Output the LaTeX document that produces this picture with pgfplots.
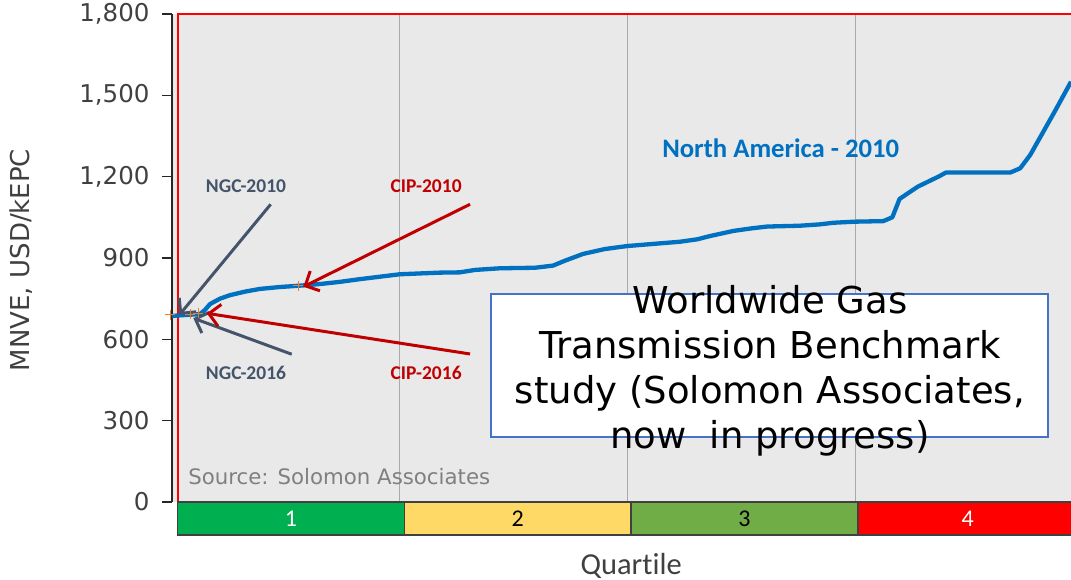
\documentclass[border=0pt]{standalone}
\usepackage{pgfplots}
\pgfplotsset{compat=1.18}
\usetikzlibrary{arrows.meta}
\usepackage{fontspec}
\setmainfont{DejaVu Sans}
\newfontfamily\carlito[Ligatures=NoCommon]{Carlito}
\definecolor{bg}{RGB}{233,233,233}
\definecolor{lineblue}{RGB}{0,112,192}
\definecolor{slate}{RGB}{68,84,106}
\definecolor{darkred}{RGB}{192,0,0}
\definecolor{orangem}{RGB}{237,125,49}
\definecolor{boxblue}{RGB}{68,114,196}
\definecolor{qgreen}{RGB}{0,176,80}
\definecolor{qyellow}{RGB}{255,217,102}
\definecolor{qolive}{RGB}{112,173,71}
\definecolor{qred}{RGB}{255,0,0}
\definecolor{ticktext}{RGB}{64,64,64}
\definecolor{vgrid}{RGB}{170,170,170}
\begin{document}
\begin{tikzpicture}
\begin{axis}[
 scale only axis, width=899pt, height=488pt,
 xmin=-0.62, xmax=98.5, ymin=0, ymax=1800,
 clip=false,
 axis background/.style={fill=bg},
 axis line style={draw=none},
 xtick=\empty,
 ytick={0,300,600,900,1200,1500,1800},
 ytick pos=left, tick align=outside, major tick length=10pt,
 tick style={draw=black!85, line width=1.2pt},
 yticklabel style={font=\fontsize{24.5}{28}\selectfont, text=ticktext, xshift=-9pt},
 /pgf/number format/1000 sep={,},
 /pgf/number format/assume math mode=true,
]
\coordinate (BL) at (axis cs:-0.62,0);
% vertical quartile lines
\draw[vgrid, line width=1pt] (axis cs:24.5,0) -- (axis cs:24.5,1800);
\draw[vgrid, line width=1pt] (axis cs:49.55,0) -- (axis cs:49.55,1800);
\draw[vgrid, line width=1pt] (axis cs:74.7,0) -- (axis cs:74.7,1800);
% red frame lines
\draw[qred, line width=2pt] (axis cs:0,0) -- (axis cs:0,1800) -- (axis cs:98.5,1800);
% left axis line
\draw[black!85, line width=1.5pt] (axis cs:-0.62,0) -- (axis cs:-0.62,1800);

\addplot[lineblue, line width=4.3pt, line join=round] coordinates {
(-0.62,686) (0.04,688) (2.47,693) (3.0,708) (3.57,730) (4.67,750) (5.78,763)
(7.43,776) (9.09,786) (11.29,793) (13.5,798) (15.7,804) (17.9,812) (20.1,822)
(22.3,831) (24.5,840) (28.9,846) (31.1,847) (32.8,856) (35.5,862) (39.4,864)
(41.4,872) (42.7,890) (44.7,915) (47.1,933) (49.55,944) (51.0,948) (55.4,960)
(57.3,969) (58.7,981) (61.3,1000) (63.2,1009) (65.0,1016) (68.6,1019) (70.8,1024)
(72.3,1030) (74.7,1034) (77.8,1036) (78.8,1050) (79.6,1118) (81.6,1163) (84.0,1202)
(84.7,1215) (91.8,1215) (92.9,1231) (94.0,1280) (96.7,1440) (98.5,1550)
};
\addplot[only marks, mark=+, mark size=5pt, orangem, mark options={line width=1pt}]
 coordinates {(-0.84,690) (1.37,692) (2.28,696) (13.3,798)};

% arrows
\draw[slate, line width=3pt, -{Straight Barb[length=11pt,width=22pt]}] (axis cs:10.26,1098) -- (axis cs:0.19,690);
\draw[slate, line width=3pt, -{Straight Barb[length=11pt,width=22pt]}] (axis cs:12.58,545) -- (axis cs:1.73,678);
\draw[darkred, line width=3pt, -{Straight Barb[length=11pt,width=22pt]}] (axis cs:32.24,1098) -- (axis cs:13.86,794);
\draw[darkred, line width=3pt, -{Straight Barb[length=11pt,width=22pt]}] (axis cs:32.24,546) -- (axis cs:3.21,696);

\node[font=\carlito\bfseries\fontsize{19.5}{22}\selectfont, text=slate] at (axis cs:7.54,1166) {NGC-2010};
\node[font=\carlito\bfseries\fontsize{19.5}{22}\selectfont, text=slate] at (axis cs:7.54,476) {NGC-2016};
\node[font=\carlito\bfseries\fontsize{19.5}{22}\selectfont, text=darkred] at (axis cs:27.4,1166) {CIP-2010};
\node[font=\carlito\bfseries\fontsize{19.5}{22}\selectfont, text=darkred] at (axis cs:27.4,476) {CIP-2016};
\node[font=\carlito\bfseries\fontsize{26.7}{30}\selectfont, text=lineblue] at (axis cs:66.5,1306) {North America - 2010};

\node[anchor=west, inner sep=0pt, font=\fontsize{21.3}{25}\selectfont, text=black!50] at (axis cs:1.15,92) {Source: Solomon Associates};

% text box
\draw[boxblue, line width=2.5pt, fill=white] (axis cs:34.55,767.2) rectangle (axis cs:95.97,239.8);
\node[anchor=base, inner sep=0pt, font=\fontsize{37}{45}\selectfont] at (axis cs:65.3,697) {Worldwide Gas};
\node[anchor=base, inner sep=0pt, font=\fontsize{37}{45}\selectfont] at (axis cs:65.3,531) {Transmission Benchmark};
\node[anchor=base, inner sep=0pt, font=\fontsize{37}{45}\selectfont] at (axis cs:65.3,365) {study (Solomon Associates,};
\node[anchor=base, inner sep=0pt, font=\fontsize{37}{45}\selectfont] at (axis cs:65.3,199) {now\ \ in progress)};

% quartile bar
\draw[fill=qgreen, draw=black!75, line width=1.5pt] (axis cs:0,0) rectangle (axis cs:25,-121.7);
\draw[fill=qyellow, draw=black!75, line width=1.5pt] (axis cs:25,0) rectangle (axis cs:50,-121.7);
\draw[fill=qolive, draw=black!75, line width=1.5pt] (axis cs:50,0) rectangle (axis cs:75,-121.7);
\draw[fill=qred, draw=black!75, line width=1.5pt] (axis cs:75,0) rectangle (axis cs:99.5,-121.7);
\node[font=\carlito\fontsize{24}{26}\selectfont, text=white] at (axis cs:12.5,-60.9) {1};
\node[font=\carlito\fontsize{24}{26}\selectfont, text=black] at (axis cs:37.5,-60.9) {2};
\node[font=\carlito\fontsize{24}{26}\selectfont, text=black] at (axis cs:62.5,-60.9) {3};
\node[font=\carlito\fontsize{24}{26}\selectfont, text=white] at (axis cs:87.1,-60.9) {4};

\node[anchor=base, font=\carlito\fontsize{30.5}{34}\selectfont, text=ticktext] at (axis cs:50,-265.6) {Quartile};
\node[rotate=90, font=\fontsize{26}{30}\selectfont, text=ticktext] at (axis cs:-17.27,892.6) {MNVE, USD/kEPC};
\end{axis}
\pgfresetboundingbox
\useasboundingbox ([shift={(-172pt,-78pt)}]BL) rectangle ([shift={(899pt,502pt)}]BL);
\end{tikzpicture}
\end{document}
